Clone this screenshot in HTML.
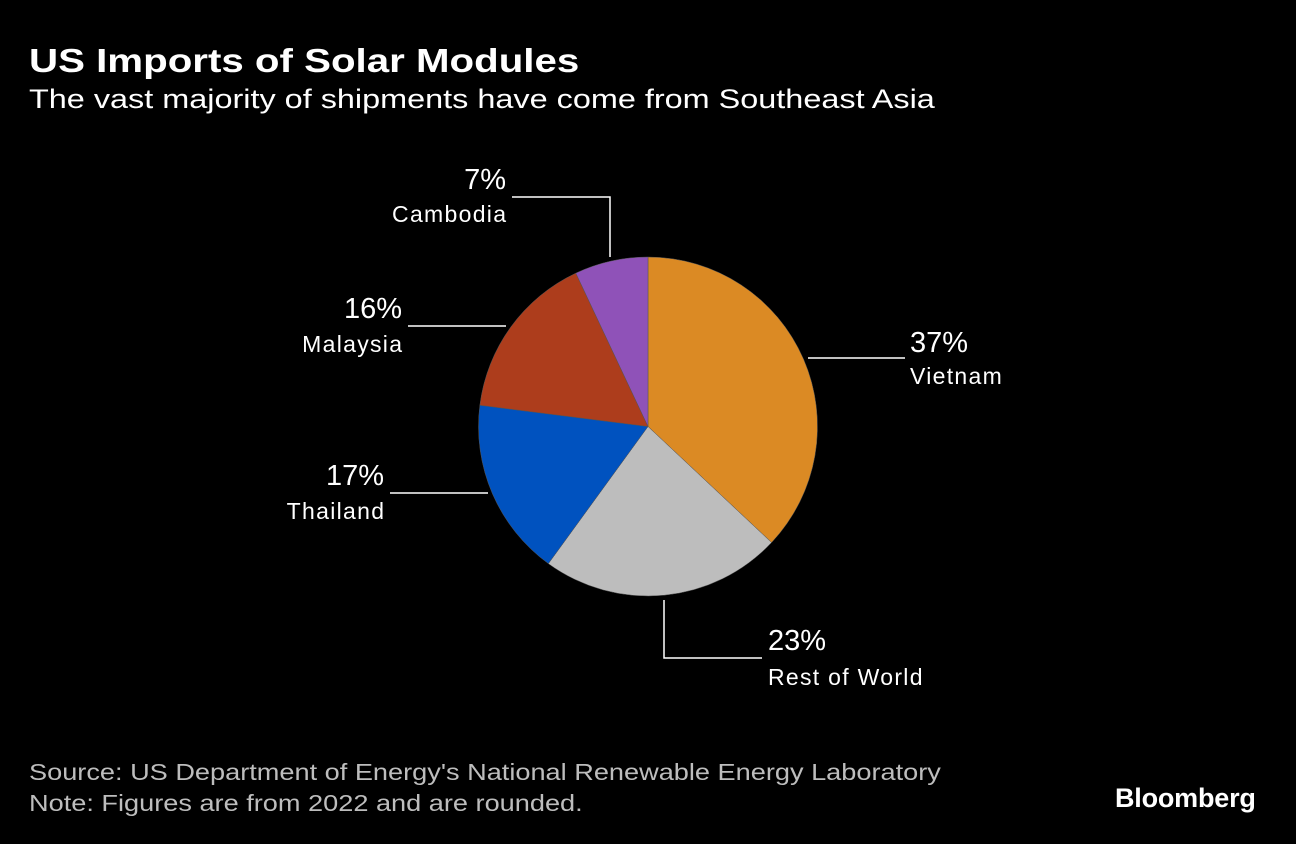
<!DOCTYPE html>
<html><head><meta charset="utf-8">
<style>
html,body{margin:0;padding:0;background:#000;}
body{width:1296px;height:844px;overflow:hidden;position:relative;font-family:"Liberation Sans",sans-serif;color:#fff;}
.t{position:absolute;white-space:nowrap;transform-origin:0 0;}
</style></head>
<body>
<div class="t" style="left:29px;top:42px;font-size:33px;font-weight:bold;transform:scaleX(1.22);">US Imports of Solar Modules</div>
<div class="t" style="left:29px;top:84px;font-size:27px;transform:scaleX(1.2);">The vast majority of shipments have come from Southeast Asia</div>
<svg id="pie" width="1296" height="844" style="position:absolute;left:0;top:0;"></svg>
<div class="t" style="left:29px;top:759px;font-size:23px;color:#bdbdbd;transform:scaleX(1.18);">Source: US Department of Energy's National Renewable Energy Laboratory</div>
<div class="t" style="left:29px;top:790px;font-size:23px;color:#bdbdbd;transform:scaleX(1.18);">Note: Figures are from 2022 and are rounded.</div>
<div class="t" style="left:1115px;top:783px;font-size:27px;font-weight:bold;letter-spacing:-0.2px;">Bloomberg</div>
<script>
const categories = ["Vietnam","Rest of World","Thailand","Malaysia","Cambodia"];
const values = [37,23,17,16,7];
const colors = ["#db8a24","#bdbdbd","#0052bf","#ad3d1c","#8f52b8"];
const layout = [
  [910,352,384,"start","808,358 905,358"],
  [768,650,685,"start","664,600 664,658 762,658"],
  [384,485,519,"end","488,493 390,493"],
  [402,318,352,"end","506,326 408,326"],
  [506,189,222,"end","610,257 610,197 512,197"]
];
const svg=document.getElementById('pie');
const NS="http://www.w3.org/2000/svg";
const cx=648, cy=426.5, r=169.5;
const total=values.reduce((a,b)=>a+b,0);
function pt(frac){const a=frac*2*Math.PI-Math.PI/2;return [cx+r*Math.cos(a),cy+r*Math.sin(a)];}
let acc=0;
values.forEach((v,i)=>{
  const s=acc/total, e=(acc+v)/total; acc+=v;
  const p0=pt(s), p1=pt(e);
  const large=(e-s)>0.5?1:0;
  const path=document.createElementNS(NS,'path');
  path.setAttribute('d',`M${cx},${cy} L${p0[0]},${p0[1]} A${r},${r} 0 ${large} 1 ${p1[0]},${p1[1]} Z`);
  path.setAttribute('fill',colors[i]);
  path.setAttribute('stroke','#555');
  path.setAttribute('stroke-width','0.5');
  
  
  svg.appendChild(path);
  const L=layout[i];
  const line=document.createElementNS(NS,'polyline');
  line.setAttribute('points',L[4]);
  line.setAttribute('fill','none');
  line.setAttribute('stroke','#fff');
  line.setAttribute('stroke-width','1.5');
  
  
  svg.appendChild(line);
  const tp=document.createElementNS(NS,'text');
  tp.setAttribute('x',L[0]);tp.setAttribute('y',L[1]);
  tp.setAttribute('text-anchor',L[3]);
  tp.setAttribute('fill','#fff');tp.setAttribute('font-size','29');
  tp.setAttribute('font-family','Liberation Sans, sans-serif');
  
  
  tp.textContent=v+'%';
  svg.appendChild(tp);
  const tn=document.createElementNS(NS,'text');
  tn.setAttribute('x',L[3]==="end"?L[0]+1.3:L[0]);tn.setAttribute('y',L[2]);
  tn.setAttribute('text-anchor',L[3]);
  tn.setAttribute('fill','#fff');tn.setAttribute('font-size','23');
  tn.setAttribute('letter-spacing','1.3');
  tn.setAttribute('font-family','Liberation Sans, sans-serif');
  
  
  tn.textContent=categories[i];
  svg.appendChild(tn);
});
</script>
</body></html>
